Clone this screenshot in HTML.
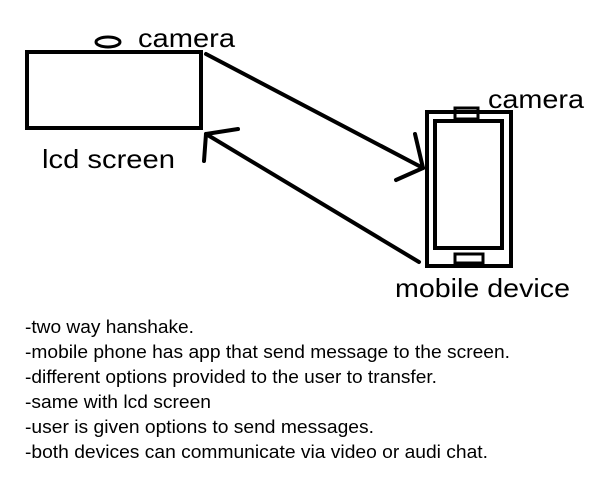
<!DOCTYPE html>
<html><head><meta charset="utf-8"><style>
html,body{margin:0;padding:0;background:#fff;width:600px;height:488px;overflow:hidden}
svg{display:block}
text{font-family:"Liberation Sans",Arial,sans-serif;fill:#000}
</style></head><body>
<svg width="600" height="488" viewBox="0 0 600 488" xmlns="http://www.w3.org/2000/svg">
<g fill="none" stroke="#000" stroke-width="4" stroke-linecap="round">
<rect x="27" y="52" width="174" height="76" stroke-linecap="butt"/>
<ellipse cx="108" cy="42" rx="12" ry="5" stroke-width="3"/>
<line x1="206" y1="54" x2="423" y2="168"/>
<line x1="415" y1="134" x2="423" y2="168"/>
<line x1="396" y1="180" x2="423" y2="168"/>
<line x1="419" y1="262" x2="206" y2="134"/>
<line x1="206" y1="134" x2="238" y2="129"/>
<line x1="206" y1="134" x2="204" y2="161"/>
<rect x="427" y="112" width="84" height="154" stroke-linecap="butt"/>
<rect x="435" y="121" width="67" height="127" stroke-linecap="butt"/>
<rect x="455" y="108" width="23" height="11" stroke-width="3" stroke-linecap="butt"/>
<rect x="455" y="254" width="28" height="9" stroke-width="3" stroke-linecap="butt"/>
</g>
<g font-size="26" lengthAdjust="spacingAndGlyphs">
<text x="138" y="47" textLength="97" lengthAdjust="spacingAndGlyphs">camera</text>
<text x="42" y="168" textLength="133" lengthAdjust="spacingAndGlyphs">lcd screen</text>
<text x="488" y="108" textLength="96" lengthAdjust="spacingAndGlyphs">camera</text>
<text x="395" y="297" textLength="175" lengthAdjust="spacingAndGlyphs">mobile device</text>
</g>
<g font-size="18">
<text x="25" y="333" textLength="169" lengthAdjust="spacingAndGlyphs">-two way hanshake.</text>
<text x="25" y="358" textLength="485" lengthAdjust="spacingAndGlyphs">-mobile phone has app that send message to the screen.</text>
<text x="25" y="383" textLength="412" lengthAdjust="spacingAndGlyphs">-different options provided to the user to transfer.</text>
<text x="25" y="408" textLength="186" lengthAdjust="spacingAndGlyphs">-same with lcd screen</text>
<text x="25" y="433" textLength="349" lengthAdjust="spacingAndGlyphs">-user is given options to send messages.</text>
<text x="25" y="458" textLength="463" lengthAdjust="spacingAndGlyphs">-both devices can communicate via video or audi chat.</text>
</g>
</svg>
</body></html>
